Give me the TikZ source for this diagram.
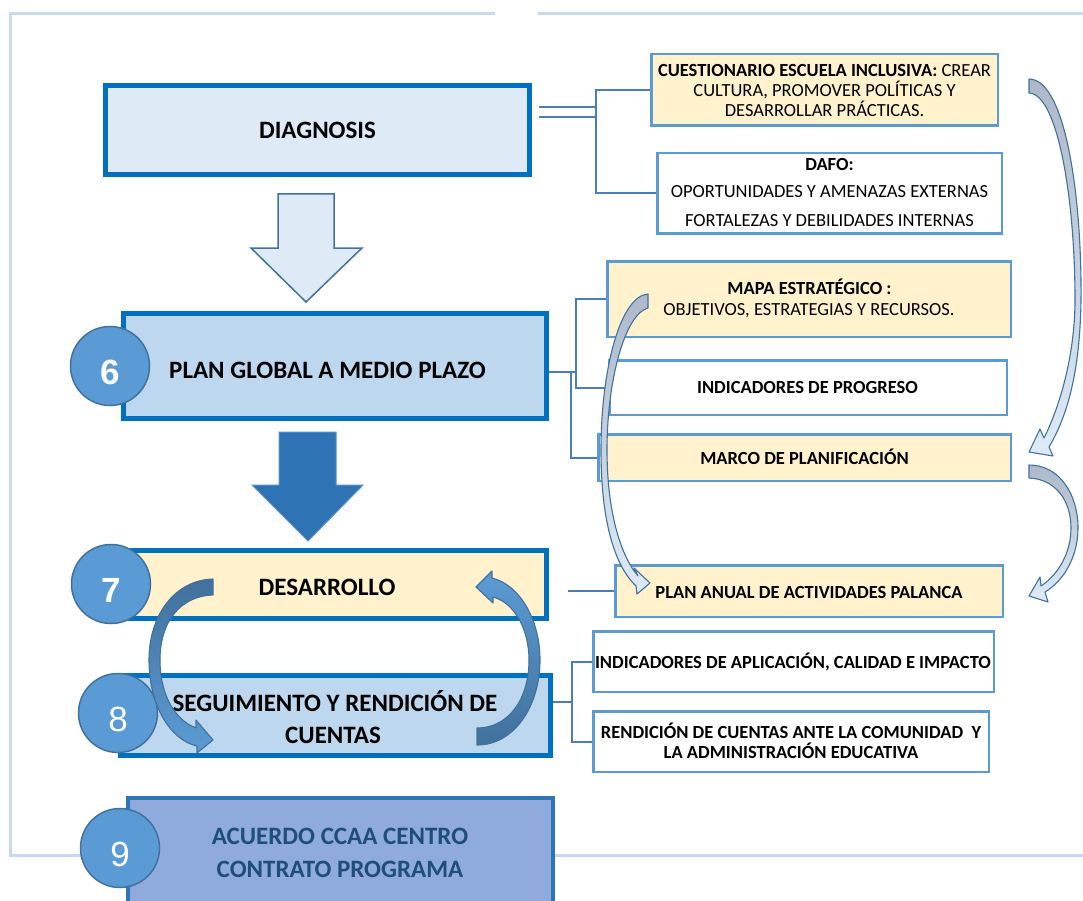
\documentclass[tikz,border=0pt]{standalone}
\usepackage{fontspec}
\setmainfont{Carlito}
\newfontfamily\numfont{Liberation Sans}
\definecolor{mainborder}{HTML}{0070C0}
\definecolor{sideborder}{HTML}{5B9BD5}
\definecolor{connc}{HTML}{4A7EBB}
\definecolor{framec}{HTML}{C5DAF0}
\definecolor{fillA}{HTML}{DEEBF7}
\definecolor{fillB}{HTML}{BDD7EE}
\definecolor{fillY}{HTML}{FFF2CC}
\definecolor{fillV}{HTML}{8FAADC}
\definecolor{acuerdoborder}{HTML}{2E75B6}
\definecolor{acuerdotext}{HTML}{1F4E79}
\definecolor{circfill}{HTML}{5B9BD5}
\definecolor{circborder}{HTML}{41719C}
\definecolor{darkarrow}{HTML}{2E74B5}
\definecolor{grayarrow}{HTML}{ADB9CA}
\begin{document}
\begin{tikzpicture}[x=1pt,y=-1pt,
  mainbox/.style={draw=mainborder, line width=5pt, inner sep=0pt, rectangle},
  sidebox/.style={draw=sideborder, line width=2.5pt, inner sep=0pt, rectangle},
  conn/.style={draw=connc, line width=2pt},
  framel/.style={draw=framec, line width=3pt},
  bigtxt/.style={font=\fontsize{25}{30}\selectfont\bfseries, anchor=base, inner sep=0pt},
  smalltxt/.style={font=\fontsize{18.5}{22}\selectfont, anchor=base, inner sep=0pt},
  numcirc/.style={circle, draw=circborder, line width=1.5pt, fill=circfill,
     minimum size=79pt, inner sep=0pt, text=white, text height=36pt, text depth=0pt,
     font=\numfont\fontsize{35}{40}\selectfont},
  blockarrow/.style={line width=1.5pt, line join=miter},
  curvearrow/.style={draw=circborder, line width=1.1pt, line join=round},
]
\useasboundingbox (0,0) rectangle (1083,901);
\clip (0,0) rectangle (1083,901);

% frame
\coordinate (f1) at (10,14);
\coordinate (f2) at (494.5,14);
\coordinate (f3) at (538,14);
\coordinate (f4) at (1090,14);
\coordinate (f5) at (10,855);
\coordinate (f6) at (1090,855);
\draw[framel] (f2) -- (f1) -- (f5) -- (f6);
\draw[framel] (f3) -- (f4);

% main boxes
\node[mainbox, fill=fillA, minimum width=424pt, minimum height=89pt] (diag) at (317.5,130) {};
\node[mainbox, fill=fillB, minimum width=423pt, minimum height=105pt] (plan) at (335,366) {};
\node[mainbox, fill=fillY, minimum width=423pt, minimum height=68pt] (desa) at (335,584.5) {};
\node[mainbox, fill=fillB, minimum width=430pt, minimum height=80pt] (segu) at (335.5,715.5) {};
\node[mainbox, draw=acuerdoborder, line width=4pt, fill=fillV, minimum width=425pt, minimum height=124pt] (acue) at (340.5,860) {};

\node[bigtxt] (tdiag) at (317.5,139) {DIAGNOSIS};
\node[bigtxt] (tplan) at (327.5,378) {PLAN GLOBAL A MEDIO PLAZO};
\node[bigtxt] (tdesa) at (327,595) {DESARROLLO};
\node[bigtxt] (tseg1) at (335,711) {SEGUIMIENTO Y RENDICIÓN DE};
\node[bigtxt] (tseg2) at (333,743) {CUENTAS};
\node[bigtxt, text=acuerdotext] (tacu1) at (340,844) {ACUERDO CCAA CENTRO};
\node[bigtxt, text=acuerdotext] (tacu2) at (340,877) {CONTRATO PROGRAMA};

% side boxes
\node[sidebox, fill=fillY, minimum width=346.5pt, minimum height=71.5pt] (cues) at (824.5,90) {};
\node[sidebox, fill=white, minimum width=344.5pt, minimum height=80.5pt] (dafo) at (829.5,193.5) {};
\node[sidebox, fill=fillY, minimum width=403.5pt, minimum height=75.5pt] (mapa) at (809,299) {};
\node[sidebox, fill=white, minimum width=397.5pt, minimum height=54.5pt] (indp) at (808,387.5) {};
\node[sidebox, fill=fillY, minimum width=412.5pt, minimum height=46.5pt] (marco) at (804.5,457.5) {};
\node[sidebox, fill=fillY, minimum width=387.5pt, minimum height=51.5pt] (pan) at (809,591) {};
\node[sidebox, fill=white, minimum width=400.5pt, minimum height=60.5pt] (iap) at (793.5,661.5) {};
\node[sidebox, fill=white, minimum width=395.5pt, minimum height=60.5pt] (ren) at (791,741.5) {};

\node[smalltxt] (tc1) at (824.5,77) {\textbf{CUESTIONARIO ESCUELA INCLUSIVA:} CREAR};
\node[smalltxt] (tc2) at (824.5,97) {CULTURA, PROMOVER POLÍTICAS Y};
\node[smalltxt] (tc3) at (824.5,117) {DESARROLLAR PRÁCTICAS.};
\node[smalltxt] (td1) at (829.5,171) {\textbf{DAFO:}};
\node[smalltxt] (td2) at (829.5,198) {OPORTUNIDADES Y AMENAZAS EXTERNAS};
\node[smalltxt] (td3) at (829.5,226) {FORTALEZAS Y DEBILIDADES INTERNAS};
\node[smalltxt] (tm1) at (809.5,294) {\textbf{MAPA ESTRATÉGICO :}};
\node[smalltxt] (tm2) at (809,315) {OBJETIVOS, ESTRATEGIAS Y RECURSOS.};
\node[smalltxt, font=\fontsize{18.5}{22}\selectfont\bfseries] (tip) at (807.5,393) {INDICADORES DE PROGRESO};
\node[smalltxt, font=\fontsize{18.5}{22}\selectfont\bfseries] (tma) at (804.5,464) {MARCO DE PLANIFICACIÓN};
\node[smalltxt, font=\fontsize{18.5}{22}\selectfont\bfseries] (tpa) at (809,598) {PLAN ANUAL DE ACTIVIDADES PALANCA};
\node[smalltxt, font=\fontsize{18.5}{22}\selectfont\bfseries] (tia) at (793,668) {INDICADORES DE APLICACIÓN, CALIDAD E IMPACTO};
\node[smalltxt, font=\fontsize{18.5}{22}\selectfont\bfseries] (tr1) at (791,738) {RENDICIÓN DE CUENTAS ANTE LA COMUNIDAD\ \ Y};
\node[smalltxt, font=\fontsize{18.5}{22}\selectfont\bfseries] (tr2) at (791,758) {LA ADMINISTRACIÓN EDUCATIVA};

% connectors
\coordinate (d1) at (539,107);
\coordinate (d2) at (539,117);
\coordinate (dv) at (596,0);
\draw[conn] (d1) -- (d1 -| dv);
\draw[conn] (d2) -- (d2 -| dv);
\draw[conn] (cues.west) -| (dv |- dafo.west) -- (dafo.west);

\coordinate (pe) at ([yshift=-6pt]plan.east);
\coordinate (p1) at (576,0);
\coordinate (p2) at (571,0);
\draw[conn] (pe) -- (pe -| p1);
\draw[conn] (mapa.west) -| (p1 |- indp.west) -- (indp.west);
\draw[conn] (pe -| p2) |- (marco.west);

\coordinate (pa0) at (568,591);
\draw[conn] (pa0) -- (pan.west);

\coordinate (se) at ([yshift=13.5pt]segu.east);
\coordinate (s1) at (572,0);
\draw[conn] (se) -- (se -| s1);
\draw[conn] (iap.west) -| (s1 |- ren.west) -- (ren.west);

% block arrows
\draw[blockarrow, fill=fillA, draw=circborder] (278,194) -- (334,194) -- (334,248) -- (362,248) -- (306,302) -- (251,248) -- (278,248) -- cycle;
\draw[blockarrow, fill=darkarrow, draw=darkarrow!80!white, line width=1pt] (279,432) -- (336,432) -- (336,485) -- (363,485) -- (308,541) -- (252,485) -- (279,485) -- cycle;

% circles
\node[numcirc] (c6) at (110,366) {\bfseries 6};
\node[numcirc] (c7) at (111,584) {\bfseries 7};
\node[numcirc] (c8) at (118,713) {8};
\node[numcirc] (c9) at (120,848) {9};

% curved arrows (right side)
\draw[curvearrow, top color=grayarrow, bottom color=fillA]
  (1029,79) .. controls (1066,79) and (1082,200) .. (1081,300)
  .. controls (1080,370) and (1068,415) .. (1049,447)
  -- (1053,456) -- (1029,452) -- (1040,429) -- (1044,438)
  .. controls (1062,402) and (1075,350) .. (1075,300)
  .. controls (1075,200) and (1058,94) .. (1029,93) -- cycle;
\draw[curvearrow, top color=grayarrow, bottom color=fillA]
  (1029,465) .. controls (1060,465) and (1078,495) .. (1078,528)
  .. controls (1078,555) and (1065,580) .. (1045,592)
  -- (1048,602) -- (1029,596) -- (1040,577) -- (1041,586)
  .. controls (1059,574) and (1071,552) .. (1071,528)
  .. controls (1071,500) and (1055,479) .. (1029,478) -- cycle;
% curved arrow (mapa -> plan anual)
\draw[curvearrow, top color=grayarrow, bottom color=fillA]
  (648,294) .. controls (620,296) and (601,370) .. (601,450)
  .. controls (601,520) and (614,565) .. (636,586)
  -- (637,594) -- (650,583) -- (634,568) -- (638,576)
  .. controls (620,555) and (607,510) .. (607,450)
  .. controls (607,380) and (625,314) .. (648,308) -- cycle;

% cycle arrows
\draw[curvearrow, top color=circborder, bottom color=circfill]
  (213,579) .. controls (175,580) and (149,615) .. (149,660)
  .. controls (149,705) and (170,740) .. (197,746)
  -- (197,753) -- (213,740) -- (196,720) -- (196,728)
  .. controls (175,720) and (160,695) .. (160,660)
  .. controls (160,622) and (180,596) .. (213,595) -- cycle;
\draw[curvearrow, top color=circfill, bottom color=circborder]
  (477,745) .. controls (515,745) and (540,705) .. (540,660)
  .. controls (540,620) and (520,585) .. (492,578)
  -- (492,571) -- (476,587) -- (493,603) -- (493,597)
  .. controls (515,603) and (529,630) .. (529,660)
  .. controls (529,700) and (508,728) .. (477,728) -- cycle;
\end{tikzpicture}
\end{document}
